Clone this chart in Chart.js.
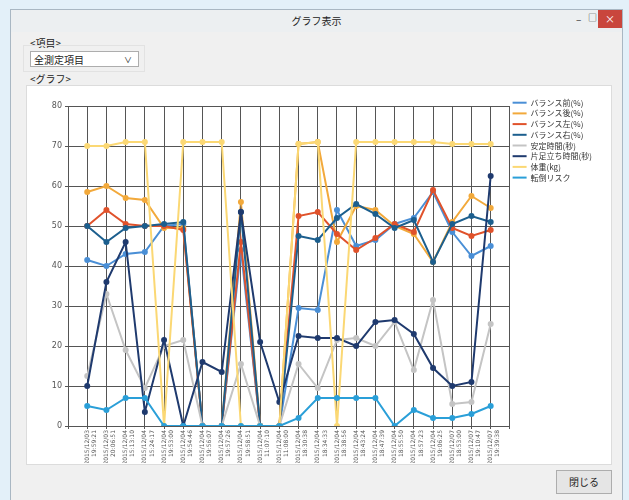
<!DOCTYPE html>
<html lang="ja">
<head>
<meta charset="utf-8">
<title>グラフ表示</title>
<script src="https://cdn.jsdelivr.net/npm/chart.js@4/dist/chart.umd.min.js"></script>
<style>
    body {
        margin: 0;
        width: 629px;
        height: 500px;
        overflow: hidden;
        background: #e3f0f9;
        font-family: "Noto Sans CJK JP", "Noto Sans", sans-serif;
        font-size: 11px;
        color: #222;
    }
    .window {
        position: absolute;
        left: 10px;
        top: 9px;
        width: 611px;
        height: 500px;
        background: #f0f0f0;
        border: 1px solid #a9b7c3;
    }
    .titlebar {
        position: absolute;
        left: 0;
        top: 0;
        width: 611px;
        height: 22px;
        background: #eceff1;
        text-align: center;
        line-height: 21px;
        font-size: 10px;
    }
    .btn-min, .btn-max {
        position: absolute;
        top: 1px;
        font-size: 10px;
        color: #333;
    }
    .btn-min { left: 565px; }
    .btn-max { left: 577px; font-size: 9px; }
    .btn-close {
        position: absolute;
        left: 587px;
        top: 0;
        width: 24px;
        height: 18px;
        background: #c9463d;
        color: #fff;
        font-size: 10px;
        line-height: 17px;
        text-align: center;
    }
    .label {
        position: absolute;
        font-size: 10px;
    }
    .group {
        position: absolute;
        left: 12px;
        top: 35px;
        width: 120px;
        height: 25px;
        border: 1px solid #e2e2e2;
    }
    .select {
        position: absolute;
        left: 19px;
        top: 41px;
        width: 109px;
        height: 16px;
        background: #fff;
        border: 1px solid #adadad;
        font-size: 10px;
        line-height: 15px;
        padding-left: 3px;
        box-sizing: border-box;
    }
    .select span {
        position: absolute;
        right: 6px;
        top: 0;
        font-size: 8px;
    }
    .panel {
        position: absolute;
        left: 15px;
        top: 75px;
        width: 584px;
        height: 378px;
        background: #fff;
        border: 1px solid #dcdcdc;
    }
    .closebtn {
        position: absolute;
        left: 545px;
        top: 460px;
        width: 54px;
        height: 22px;
        border: 1px solid #adadad;
        background: #e5e5e5;
        font-size: 10px;
        line-height: 21px;
        text-align: center;
    }
    #chartBox {
        position: absolute;
        left: 1px;
        top: 1px;
        width: 582px;
        height: 376px;
    }
</style>
</head>
<body>
<div class="window">
    <div class="titlebar">グラフ表示</div>
    <div class="btn-min">–</div>
    <div class="btn-max">□</div>
    <div class="btn-close">×</div>
    <div class="label" style="left:19px; top:25px;">&lt;項目&gt;</div>
    <div class="group"></div>
    <div class="select">全測定項目<span>&#8744;</span></div>
    <div class="label" style="left:19px; top:61px;">&lt;グラフ&gt;</div>
    <div class="panel">
        <div id="chartBox"><canvas id="trendChart"></canvas></div>
    </div>
    <div class="closebtn">閉じる</div>
</div>

<script>
// Measurement dates / times (x axis)
const dates = [
    "2015/12/03", "2015/12/03", "2015/12/04", "2015/12/04", "2015/12/04", "2015/12/04",
    "2015/12/04", "2015/12/04", "2015/12/04", "2015/12/04", "2015/12/04", "2015/12/04",
    "2015/12/04", "2015/12/04", "2015/12/04", "2015/12/04", "2015/12/04", "2015/12/04",
    "2015/12/04", "2015/12/07", "2015/12/07", "2015/12/07"
];
const times = [
    "19:59:21", "20:06:51", "15:13:10", "15:24:17", "19:53:00", "19:54:46",
    "19:56:07", "19:57:26", "19:58:51", "11:07:10", "11:08:00", "18:30:38",
    "18:34:33", "18:38:56", "18:43:24", "18:47:39", "18:55:50", "18:57:23",
    "19:06:25", "18:53:00", "19:10:47", "19:39:38"
];

const yTicks = [0, 10, 20, 30, 40, 50, 60, 70, 80];

// Series values
const balanceFront = [41.5, 40, 43, 43.5, 50, 50.5, 0, 0, 44, 0, 0, 29.5, 29, 54, 45, 46.5, 50.5, 52, 58.5, 48.5, 42.5, 45];
const balanceBack = [58.5, 60, 57, 56.5, 49.5, 49.5, 0, 0, 56, 0, 0, 70.5, 71, 46, 55, 54, 50, 48, 41, 51, 57.5, 54.5];
const balanceLeft = [50, 54, 50.5, 50, 50, 49, 0, 0, 46, 0, 0, 52.5, 53.5, 48, 44, 47, 50.5, 48.5, 59, 49.5, 47.5, 49];
const balanceRight = [50, 46, 49.5, 50, 50.5, 51, 0, 0, 53.5, 0, 0, 47.5, 46.5, 52, 55.5, 53, 49.5, 51.5, 41, 50.5, 52.5, 51];
const stableTime = [12.5, 33, 19, 9.5, 20, 21.5, 0, 0, 15.5, 0, 0, 15.5, 9.5, 21.5, 22, 20, 26, 14, 31.5, 5.5, 6, 25.5];
const oneLegTime = [10, 36, 46, 3.5, 21.5, 0, 16, 13.5, 53.5, 21, 6, 22.5, 22, 22, 20, 26, 26.5, 23, 14.5, 10, 11, 62.5];
const bodyWeight = [70, 70, 71, 71, 0, 71, 71, 71, 0, 0, 0, 70.5, 71, 0, 71, 71, 71, 71, 71, 70.5, 70.5, 70.5];
const fallRisk = [5, 4, 7, 7, 0, 0, 0, 0, 0, 0, 0, 2, 7, 7, 7, 7, 0, 4, 2, 2, 3, 5];

const seriesNames = [
    "バランス前(%)", "バランス後(%)", "バランス左(%)", "バランス右(%)",
    "安定時間(秒)", "片足立ち時間(秒)", "体重(kg)", "転倒リスク"
];
const seriesValues = [balanceFront, balanceBack, balanceLeft, balanceRight, stableTime, oneLegTime, bodyWeight, fallRisk];
const seriesColors = ["#4a8fd6", "#f2a93b", "#e0522b", "#1c5f8e", "#c4c4c4", "#1f3a6e", "#fbd874", "#2a9fd8"];

document.addEventListener("DOMContentLoaded", function () {
    setupChart();
});

// Nudge the legend up so it starts near the top of the plot frame
const legendShift = {
    id: "legendShift",
    afterLayout(chart) {
        if (!chart.legend) return;
        chart.legend.top -= 10;
        chart.legend.bottom -= 10;
    },
};

function setupChart() {
    const ctx = document.getElementById("trendChart").getContext("2d");

    const datasets = seriesNames.map((name, i) => ({
        label: name,
        data: seriesValues[i].map((v, j) => ({ x: j + 1, y: v })),
        borderColor: seriesColors[i],
        backgroundColor: seriesColors[i],
        pointBackgroundColor: seriesColors[i],
        pointBorderColor: seriesColors[i],
        borderWidth: 2,
        pointRadius: 2,
        pointBorderWidth: 2,
        tension: 0,
        order: seriesNames.length - 1 - i,
    }));

    new Chart(ctx, {
        type: "line",
        data: { datasets: datasets },
        plugins: [legendShift],
        options: {
            responsive: true,
            maintainAspectRatio: false,
            animation: false,
            layout: {
                padding: { top: 19, right: 8, left: 0, bottom: 0 },
            },
            plugins: {
                tooltip: { enabled: false },
                legend: {
                    position: "right",
                    align: "start",
                    labels: {
                        usePointStyle: true,
                        pointStyle: "line",
                        pointStyleWidth: 14,
                        padding: 2.7,
                        color: "#333",
                        font: { size: 8, family: "'Noto Sans CJK JP'" },
                        sort: (a, b) => a.datasetIndex - b.datasetIndex,
                    },
                },
            },
            scales: {
                x: {
                    type: "linear",
                    min: 0,
                    max: dates.length + 1,
                    afterFit: (scale) => { scale.height = 37; },
                    grid: {
                        color: "#555",
                        lineWidth: 1,
                        tickLength: 3,
                    },
                    border: { color: "#555" },
                    ticks: {
                        stepSize: 1,
                        autoSkip: false,
                        maxRotation: 90,
                        minRotation: 90,
                        padding: 1,
                        color: "#555",
                        font: { size: 6, family: "'DejaVu Sans'" },
                        callback: (v) => (v >= 1 && v <= dates.length) ? [dates[v - 1], times[v - 1]] : "",
                    },
                },
                y: {
                    min: yTicks[0],
                    max: yTicks[yTicks.length - 1],
                    afterFit: (scale) => { scale.width = 40; },
                    afterBuildTicks: (scale) => { scale.ticks = yTicks.map(v => ({ value: v })); },
                    grid: {
                        color: "#555",
                        lineWidth: 1,
                        tickLength: 3,
                    },
                    border: { color: "#555" },
                    ticks: {
                        color: "#555",
                        padding: 3,
                        font: { size: 8, family: "'DejaVu Sans'" },
                    },
                },
            },
        },
    });
}
</script>
</body>
</html>
